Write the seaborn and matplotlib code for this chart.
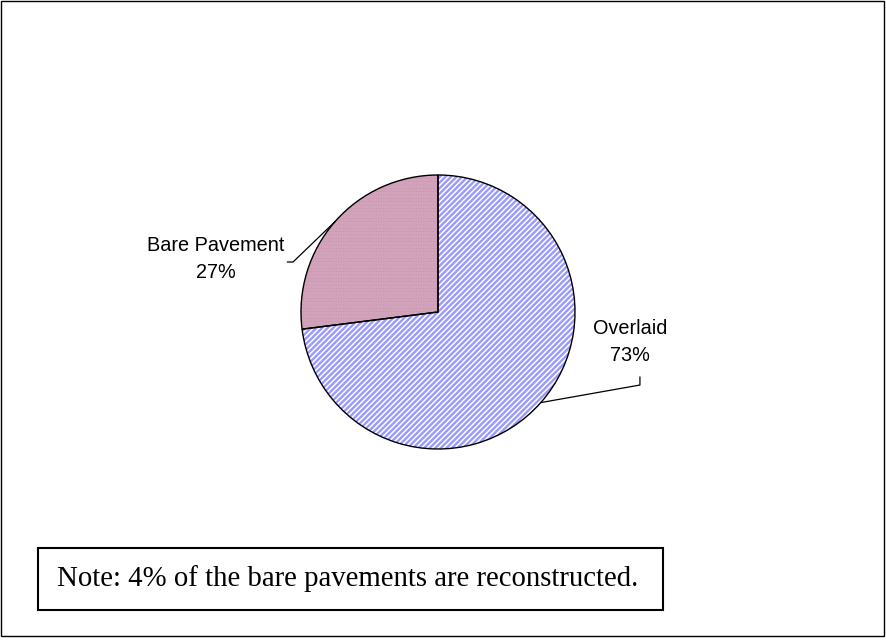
import numpy as np
import matplotlib
matplotlib.use('Agg')
import matplotlib.pyplot as plt
import seaborn as sns
from matplotlib.patches import Rectangle

# ──────────────────────────────────────────
# Data
# ──────────────────────────────────────────
labels = ['Overlaid', 'Bare Pavement']
shares = [73, 27]
note_text = 'Note: 4% of the bare pavements are reconstructed.'

# ──────────────────────────────────────────
# Style
# ──────────────────────────────────────────
sns.set_style('white')
plt.rcParams['font.family'] = ['Liberation Sans', 'DejaVu Sans']
plt.rcParams['text.color'] = 'black'
plt.rcParams['hatch.linewidth'] = 1.7

fill_colors = ['white', '#C994B0']
hatch_colors = ['#9999FF', '#D9AFC4']
hatches = ['//////', '.....']

fig = plt.figure(figsize=(8.86, 6.4), dpi=100)

# outer chart frame
fig.patches.append(Rectangle((1 / 886, 4 / 640), 883 / 886, 635 / 640,
                             transform=fig.transFigure, fill=False,
                             edgecolor='black', linewidth=1.0))

# pie axes: centre (438, 312), radius 137 px
ax = fig.add_axes([301 / 886, (640 - 449) / 640, 274 / 886, 274 / 640])

# hatched fill layer
wedges, _ = ax.pie(shares, startangle=90, counterclock=False,
                   colors=fill_colors,
                   wedgeprops=dict(linewidth=0))
for w, hc, h in zip(wedges, hatch_colors, hatches):
    w.set_hatch(h)
    w.set_edgecolor(hc)

# black outline layer
outline, _ = ax.pie(shares, startangle=90, counterclock=False,
                    colors=['none', 'none'],
                    wedgeprops=dict(linewidth=1.0, edgecolor='black'))

ax.set_xlim(-1, 1)
ax.set_ylim(-1, 1)
ax.axis('off')

# labels with leader lines
label_pos = {'Overlaid': (1.40, -0.22), 'Bare Pavement': (-1.62, 0.385)}
elbows = {'Overlaid': [(1.474, -0.533), (1.474, -0.474)],
          'Bare Pavement': [(-1.058, 0.365), (-1.10, 0.365)]}

for w, lab, val in zip(wedges, labels, shares):
    mid = np.deg2rad((w.theta1 + w.theta2) / 2)
    start = (np.cos(mid), np.sin(mid))
    pts = [start] + elbows[lab]
    xs, ys = zip(*pts)
    ax.plot(xs, ys, color='black', linewidth=0.9, clip_on=False)
    ax.text(*label_pos[lab], f'{lab}\n{val}%', ha='center', va='center',
            fontsize=14.3, linespacing=1.55, color='black', clip_on=False)

# note box
fig.patches.append(Rectangle((38 / 886, (640 - 610) / 640), 625 / 886, 62 / 640,
                             transform=fig.transFigure, fill=False,
                             edgecolor='black', linewidth=1.5))
fig.text(57 / 886, (640 - 579) / 640, note_text, ha='left', va='center',
         fontsize=20.7, color='black',
         family=['Liberation Serif', 'DejaVu Serif'])

fig.savefig('out.png', dpi=100)
